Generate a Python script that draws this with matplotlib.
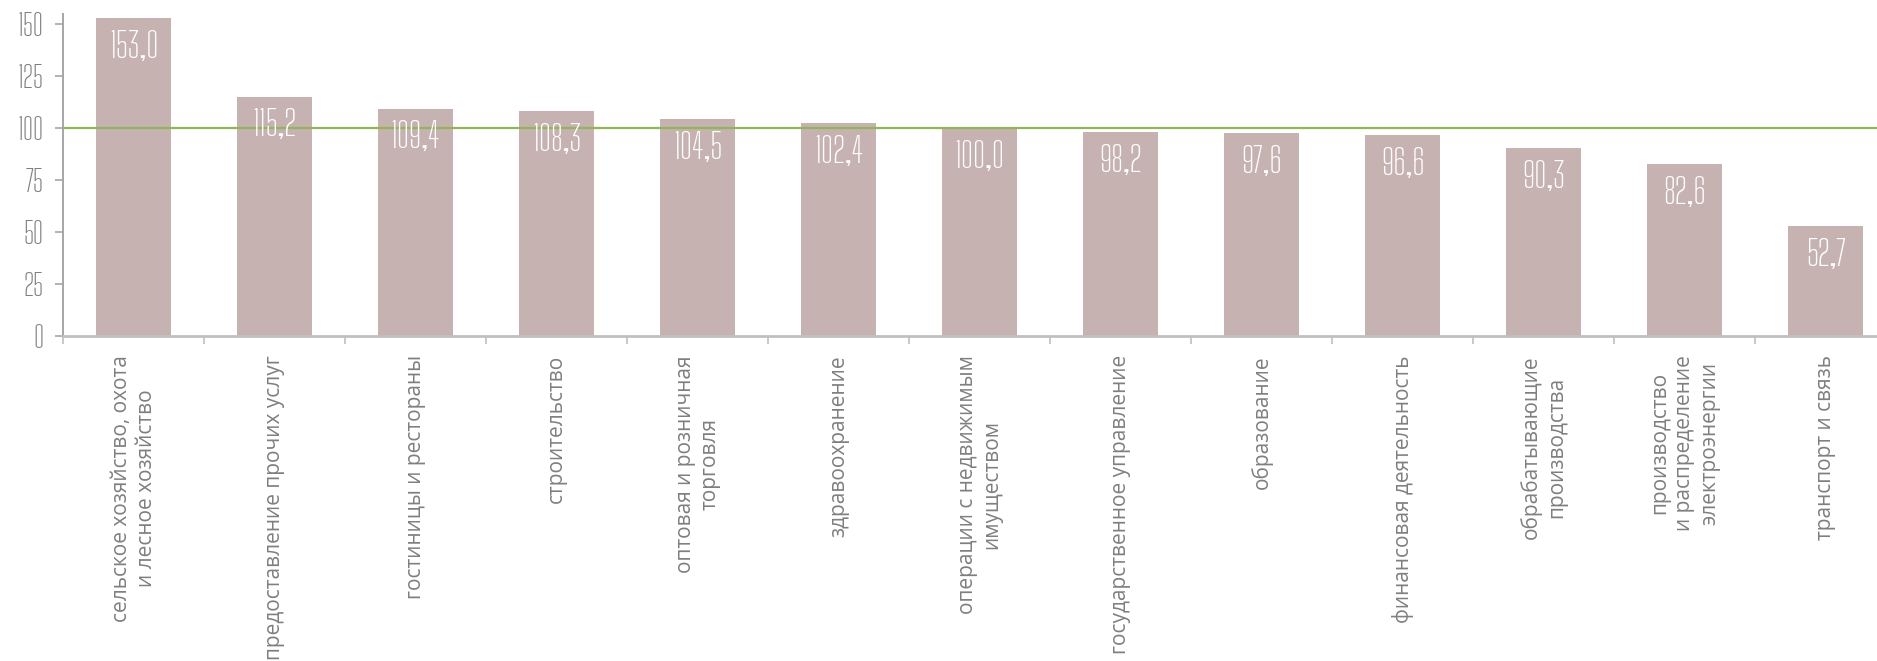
import matplotlib
matplotlib.use('Agg')
import matplotlib.pyplot as plt
import numpy as np

# Данные
categories = [
    'сельское хозяйство, охота\nи лесное хозяйство',
    'предоставление прочих услуг',
    'гостиницы и рестораны',
    'строительство',
    'оптовая и розничная\nторговля',
    'здравоохранение',
    'операции с недвижимым\nимуществом',
    'государственное управление',
    'образование',
    'финансовая деятельность',
    'обрабатывающие\nпроизводства',
    'производство\nи распределение\nэлектроэнергии',
    'транспорт и связь',
]
values = [153.0, 115.2, 109.4, 108.3, 104.5, 102.4, 100.0, 98.2, 97.6, 96.6, 90.3, 82.6, 52.7]
yticks = [0, 25, 50, 75, 100, 125, 150]
baseline = 100

num_font = ['Big Shoulders Text', 'DejaVu Sans']
lab_font = ['Open Sans', 'DejaVu Sans']

fig = plt.figure(figsize=(18.77, 6.61), dpi=100)
fig.patch.set_facecolor('white')
ax = fig.add_axes([0.0336, 0.492, 0.9766, 0.4867])

x = np.arange(len(categories))
ax.bar(x, values, 0.53, color='#c6b2b1', zorder=2)
ax.axhline(baseline, color='#92b559', lw=1.6, zorder=3)

for i, v in enumerate(values):
    ax.annotate(f'{v:.1f}'.replace('.', ','), (i, v), xytext=(0, -21), textcoords='offset points',
                ha='center', va='center', color='white', fontsize=25, family=num_font, zorder=4)

ax.set_xlim(-0.5, len(categories) - 0.5)
ax.set_ylim(0, 155)
ax.set_yticks(yticks)
ax.set_yticklabels([str(t) for t in yticks], fontsize=21, family=num_font, color='#7f7f7f')
ax.tick_params(axis='y', length=6, width=1.2, color='#a6a6a6', pad=8)

ax.set_xticks(x)
ax.set_xticklabels(categories, rotation=90, ha='center', va='top', multialignment='center',
                   fontsize=15, family=lab_font, color='#7f7f7f', linespacing=1.25)
ax.tick_params(axis='x', which='major', length=0, pad=14)
ax.set_xticks(np.arange(-0.5, len(categories), 1), minor=True)
ax.tick_params(axis='x', which='minor', length=6, width=1.2, color='#c0c0c0')

for s in ['top', 'right']:
    ax.spines[s].set_visible(False)
ax.spines['left'].set_color('#a6a6a6')
ax.spines['left'].set_linewidth(1.4)
ax.spines['bottom'].set_color('#c0c0c0')
ax.spines['bottom'].set_linewidth(2)

fig.savefig('out.png', dpi=100, facecolor='white')
